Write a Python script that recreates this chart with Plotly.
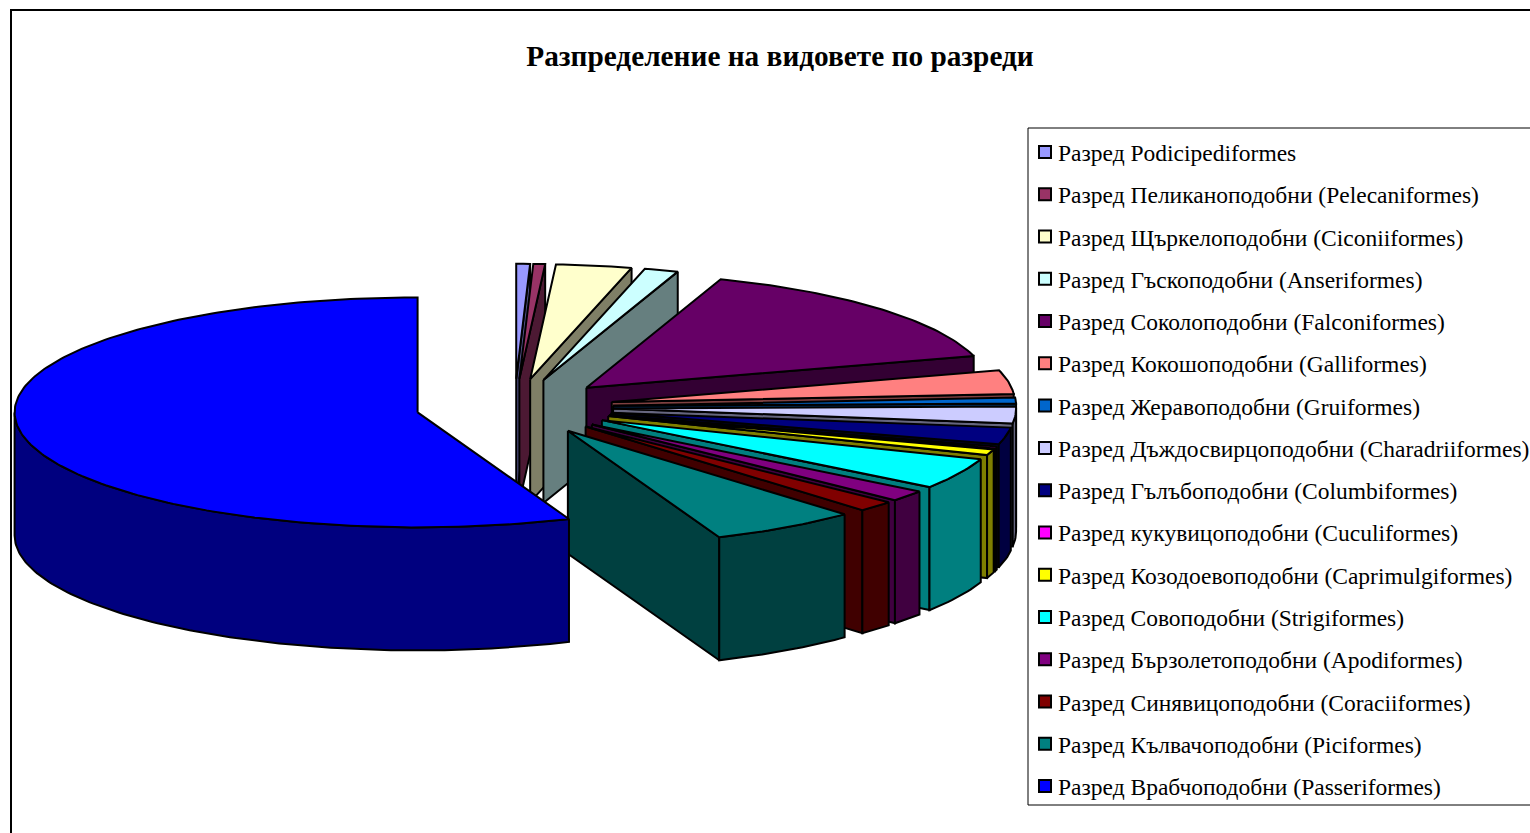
import math
import plotly.graph_objects as go

labels = [
    "Разред Podicipediformes",
    "Разред Пеликаноподобни (Pelecaniformes)",
    "Разред Щъркелоподобни (Ciconiiformes)",
    "Разред Гъскоподобни (Anseriformes)",
    "Разред Соколоподобни (Falconiformes)",
    "Разред Кокошоподобни (Galliformes)",
    "Разред Жеравоподобни (Gruiformes)",
    "Разред Дъждосвирцоподобни (Charadriiformes)",
    "Разред Гълъбоподобни (Columbiformes)",
    "Разред кукувицоподобни (Cuculiformes)",
    "Разред Козодоевоподобни (Caprimulgiformes)",
    "Разред Совоподобни (Strigiformes)",
    "Разред Бързолетоподобни (Apodiformes)",
    "Разред Синявицоподобни (Coraciiformes)",
    "Разред Кълвачоподобни (Piciformes)",
    "Разред Врабчоподобни (Passeriformes)",
]
values = [0.55, 0.47, 3.03, 1.36, 15.14, 3.33, 0.83, 2.36,
          2.36, 0.28, 0.83, 4.36, 1.56, 1.50, 5.92, 56.14]
colors = ["#9999FF", "#993366", "#FFFFCC", "#CCFFFF", "#660066", "#FF8080",
          "#0066CC", "#CCCCFF", "#000080", "#FF00FF", "#FFFF00", "#00FFFF",
          "#800080", "#800000", "#008080", "#0000FF"]

# projection of the 3D pie onto the page (pixels)
CX, CY, RX, RY, EXPLODE, DEPTH = 514.5, 407, 403, 115, 0.245, 123
# legend key column and row pitch (pixels)
KEY_X, KEY_Y0, KEY_DY = 1045, 152, 42.27


def shade(c):
    return "#%02X%02X%02X" % tuple(int(c[i:i + 2], 16) // 2 for i in (1, 3, 5))


def face(xs, ys, color):
    return go.Scatter(x=xs, y=ys, mode="lines", fill="toself", fillcolor=color,
                      line=dict(color="black", width=2), showlegend=False,
                      hoverinfo="skip")


fig = go.Figure()
total = sum(values)
start = 0.0
slices = []
for name, v, c in zip(labels, values, colors):
    end = start + v / total * 2 * math.pi
    slices.append((name, start, end, c))
    start = end

for name, a, b, c in slices:
    m = (a + b) / 2
    ox = CX + EXPLODE * RX * math.sin(m)
    oy = CY - EXPLODE * RY * math.cos(m)
    px = lambda t: ox + RX * math.sin(t)
    py = lambda t: oy - RY * math.cos(t)
    dark = shade(c)
    # radial walls
    if math.sin(b) > 0:
        fig.add_trace(face([ox, px(b), px(b), ox, ox],
                           [oy, py(b), py(b) + DEPTH, oy + DEPTH, oy], dark))
    if math.sin(a) < 0:
        fig.add_trace(face([ox, px(a), px(a), ox, ox],
                           [oy, py(a), py(a) + DEPTH, oy + DEPTH, oy], dark))
    # rim, front half only
    ra, rb = max(a, math.pi / 2), min(b, 3 * math.pi / 2)
    if rb > ra:
        n = max(2, int((rb - ra) * 60))
        ts = [ra + (rb - ra) * i / n for i in range(n + 1)]
        xs = [px(t) for t in ts]
        ys = [py(t) for t in ts]
        fig.add_trace(face(xs + xs[::-1] + xs[:1],
                           ys + [y + DEPTH for y in ys[::-1]] + ys[:1], dark))
    # top
    n = max(2, int((b - a) * 60))
    ts = [a + (b - a) * i / n for i in range(n + 1)]
    fig.add_trace(go.Scatter(
        x=[ox] + [px(t) for t in ts] + [ox],
        y=[oy] + [py(t) for t in ts] + [oy],
        mode="lines", fill="toself", fillcolor=c,
        line=dict(color="black", width=2), showlegend=False,
        name=name, text=name, hoverinfo="text"))

# legend text from the library's legend; the colour keys sit in the reference's column
for i, (name, c) in enumerate(zip(labels, colors)):
    fig.add_trace(go.Scatter(
        x=[None], y=[None], mode="markers", name=name, legendgroup=name,
        marker=dict(symbol="square", size=12, color="rgba(0,0,0,0)",
                    line=dict(color="rgba(0,0,0,0)", width=0))))
    fig.add_trace(go.Scatter(
        x=[KEY_X], y=[KEY_Y0 + KEY_DY * i], mode="markers", showlegend=False,
        hoverinfo="skip",
        marker=dict(symbol="square", size=12, color=c,
                    line=dict(color="black", width=2))))

fig.update_layout(
    width=1530, height=833, margin=dict(l=0, r=0, t=0, b=0, autoexpand=False),
    paper_bgcolor="white", plot_bgcolor="white",
    font=dict(family="Liberation Serif", color="black"),
    xaxis=dict(range=[0, 1530], visible=False, fixedrange=True),
    yaxis=dict(range=[833, 0], visible=False, fixedrange=True),
    title=dict(text="<b>Разпределение на видовете по разреди</b>",
               x=780 / 1530, y=1 - 56 / 833, xanchor="center", yanchor="middle",
               font=dict(family="Liberation Serif", size=29.3, color="black")),
    legend=dict(x=1018 / 1530, y=1 - 130 / 833, xanchor="left", yanchor="top",
                bgcolor="rgba(0,0,0,0)", borderwidth=0,
                font=dict(family="Liberation Serif", size=23.5, color="black"),
                tracegroupgap=8.73, itemwidth=30),
    shapes=[dict(type="rect", xref="paper", yref="paper", x0=11 / 1530, x1=1.01,
                 y0=-0.01, y1=1 - 10 / 833, line=dict(color="black", width=2),
                 layer="below"),
            dict(type="rect", xref="paper", yref="paper", x0=1028 / 1530, x1=1.01,
                 y0=1 - 805 / 833, y1=1 - 128 / 833, fillcolor="white",
                 line=dict(color="black", width=1), layer="below")],
)
fig.write_html("out.html", config=dict(displayModeBar=False),
               post_script="document.body.style.margin='0';document.body.style.overflow='hidden';")
